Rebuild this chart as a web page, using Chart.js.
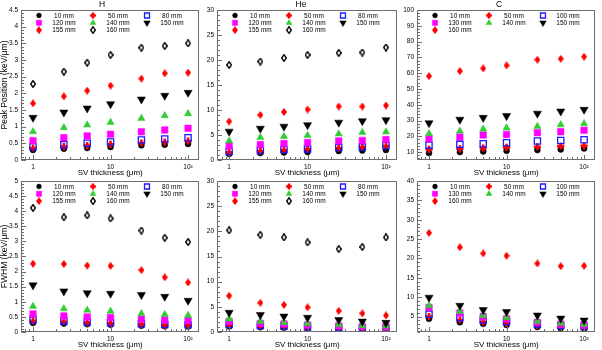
<!DOCTYPE html>
<html><head><meta charset="utf-8">
<script src="https://cdn.jsdelivr.net/npm/chart.js@4/dist/chart.umd.min.js"></script>
<style>
html,body{margin:0;padding:0;background:#fff;}
body{width:602px;height:350px;position:relative;overflow:hidden;}
canvas{position:absolute;}
</style></head><body>
<canvas id="p1" width="206" height="178" style="left:0px;top:0px"></canvas>
<canvas id="p2" width="204" height="178" style="left:200px;top:0px"></canvas>
<canvas id="p3" width="204" height="178" style="left:398px;top:0px"></canvas>
<canvas id="p4" width="206" height="180" style="left:0px;top:170px"></canvas>
<canvas id="p5" width="204" height="180" style="left:200px;top:170px"></canvas>
<canvas id="p6" width="204" height="180" style="left:398px;top:170px"></canvas>
<script>
// ---------------- data ----------------
const thickness = [1, 2.5, 5, 10, 25, 50, 100];
const xTickValues = [1, 10, 100];
const xTickLabels = ['1', '10', '10²'];

const hDepths = ['10 mm','50 mm','80 mm','120 mm','140 mm','150 mm','155 mm','160 mm'];
const cDepths = ['10 mm','50 mm','100 mm','130 mm','140 mm','150 mm','160 mm'];

const hPeakTicks = [0,0.5,1,1.5,2,2.5,3,3.5,4,4.5];
const hePeakTicks = [0,5,10,15,20,25,30];
const cPeakTicks = [10,20,30,40,50,60,70,80,90,100];
const hFwhmTicks = [0,0.5,1,1.5,2,2.5,3,3.5,4,4.5,5];
const heFwhmTicks = [0,5,10,15,20,25,30];
const cFwhmTicks = [5,10,15,20,25,30,35,40];

// Peak position, H
const hPeak10  = [0.30,0.34,0.36,0.39,0.44,0.46,0.48];
const hPeak50  = [0.36,0.40,0.43,0.47,0.51,0.54,0.57];
const hPeak80  = [0.40,0.46,0.50,0.54,0.60,0.63,0.67];
const hPeak120 = [0.58,0.67,0.72,0.77,0.85,0.90,0.95];
const hPeak140 = [0.85,0.97,1.05,1.13,1.25,1.33,1.39];
const hPeak150 = [1.27,1.43,1.55,1.68,1.82,1.93,2.02];
const hPeak155 = [1.70,1.91,2.08,2.23,2.44,2.60,2.62];
const hPeak160 = [2.28,2.65,2.92,3.15,3.37,3.42,3.50];
// Peak position, He
const hePeak10  = [1.2,1.4,1.5,1.6,1.8,1.9,2.0];
const hePeak50  = [1.5,1.8,2.0,2.2,2.4,2.6,2.8];
const hePeak80  = [1.7,1.9,2.1,2.2,2.5,2.6,2.9];
const hePeak120 = [2.8,3.1,3.3,3.5,3.8,3.9,4.1];
const hePeak140 = [3.8,4.5,4.7,4.9,5.2,5.5,5.6];
const hePeak150 = [5.7,6.3,6.7,7.0,7.5,7.8,8.0];
const hePeak155 = [7.7,9.0,9.6,10.1,10.7,10.7,10.9];
const hePeak160 = [19.0,19.7,20.4,21.0,21.4,21.5,22.5];
// Peak position, C
const cPeak10  = [9.4,10.0,10.4,10.8,11.3,11.7,12.3];
const cPeak50  = [11.7,12.1,12.5,13.0,13.4,13.8,14.0];
const cPeak100 = [14.4,14.9,15.3,15.9,17.0,17.4,17.8];
const cPeak130 = [18.5,19.5,20.8,21.2,22.3,22.9,23.8];
const cPeak140 = [21.7,23.3,24.6,25.3,26.3,27.4,28.0];
const cPeak150 = [28.4,30.6,31.8,32.9,34.4,35.8,36.9];
const cPeak160 = [58.1,61.3,63.0,64.9,68.5,69.1,70.4];
// FWHM, H
const hFwhm10  = [0.30,0.28,0.26,0.24,0.21,0.19,0.18];
const hFwhm50  = [0.37,0.34,0.30,0.28,0.25,0.22,0.21];
const hFwhm80  = [0.40,0.36,0.33,0.31,0.27,0.25,0.24];
const hFwhm120 = [0.60,0.53,0.50,0.48,0.42,0.40,0.38];
const hFwhm140 = [0.85,0.77,0.72,0.69,0.61,0.58,0.55];
const hFwhm150 = [1.55,1.35,1.29,1.27,1.23,1.17,1.04];
const hFwhm155 = [2.26,2.25,2.20,2.19,2.05,1.81,1.64];
const hFwhm160 = [4.11,3.80,3.86,3.76,3.36,3.12,2.98];
// FWHM, He
const heFwhm10  = [1.10,0.95,0.85,0.75,0.65,0.58,0.55];
const heFwhm50  = [1.40,1.20,1.05,0.95,0.80,0.70,0.65];
const heFwhm80  = [1.50,1.30,1.15,1.00,0.85,0.75,0.70];
const heFwhm120 = [2.10,1.70,1.60,1.40,1.20,1.05,1.00];
const heFwhm140 = [2.60,2.10,1.85,1.70,1.45,1.25,1.20];
const heFwhm150 = [3.85,3.40,3.10,2.85,2.40,2.10,1.85];
const heFwhm155 = [7.2,5.8,5.4,4.9,4.2,3.7,3.3];
const heFwhm160 = [20.2,19.3,18.8,17.8,16.5,16.9,18.8];
// FWHM, C
const cFwhm10  = [4.4,3.5,3.1,2.8,2.3,2.0,1.8];
const cFwhm50  = [5.0,4.1,3.6,3.2,2.7,2.3,2.1];
const cFwhm100 = [5.6,4.7,4.1,3.7,3.1,2.7,2.4];
const cFwhm130 = [7.3,5.9,5.0,4.4,3.5,3.0,2.8];
const cFwhm140 = [7.8,6.3,5.3,4.7,3.8,3.3,3.0];
const cFwhm150 = [9.9,7.8,6.7,6.2,5.3,4.5,4.0];
const cFwhm160 = [26.6,22.9,21.3,20.7,18.7,18.0,18.1];

// ---------------- styles ----------------
const FONT = '"Liberation Sans", Arial, Helvetica, sans-serif';
Chart.defaults.font.family = FONT;
Chart.defaults.color = '#000';
const AXIS = '#6e6e6e';

function diamond(w, h, fill, stroke, lw) {
  const c = document.createElement('canvas');
  c.width = w; c.height = h;
  const g = c.getContext('2d');
  const m = lw ? lw / 2 : 0;
  g.beginPath();
  g.moveTo(w / 2, m); g.lineTo(w - m, h / 2); g.lineTo(w / 2, h - m); g.lineTo(m, h / 2); g.closePath();
  if (fill) { g.fillStyle = fill; g.fill(); }
  if (stroke) { g.strokeStyle = stroke; g.lineWidth = lw; g.stroke(); }
  return c;
}
const MARKERS = {
  circle:      {pointStyle:'circle', pointRadius:3, pointBackgroundColor:'#000', pointBorderColor:'#000', pointBorderWidth:0.5},
  cross:       {pointStyle:'cross', pointRadius:3.6, pointBackgroundColor:'#ff0000', pointBorderColor:'#ff0000', pointBorderWidth:2.6},
  openSquare:  {pointStyle:'rect', pointRadius:4.4, pointBackgroundColor:'rgba(255,255,255,0)', pointBorderColor:'#1a1aff', pointBorderWidth:1.3},
  magSquare:   {pointStyle:'rect', pointRadius:4.6, pointBackgroundColor:'#ff00ff', pointBorderColor:'#ff00ff', pointBorderWidth:0.5},
  triUp:       {pointStyle:'triangle', pointRadius:4.2, pointBackgroundColor:'#33cc33', pointBorderColor:'#33cc33', pointBorderWidth:0.5},
  triDown:     {pointStyle:'triangle', pointRotation:180, pointRadius:4.7, pointBackgroundColor:'#000', pointBorderColor:'#000', pointBorderWidth:0.5},
  redDiamond:  {pointStyle:diamond(6, 8, '#ff0000', null, 0), pointRadius:4, pointBackgroundColor:'#ff0000', pointBorderColor:'#ff0000', pointBorderWidth:0},
  openDiamond: {pointStyle:diamond(6, 8, '#ffffff', '#000', 1.4), pointRadius:4, pointBackgroundColor:'#fff', pointBorderColor:'#000', pointBorderWidth:1.4}
};
const hStyles = ['circle','cross','openSquare','magSquare','triUp','triDown','redDiamond','openDiamond'];
const cStyles = ['circle','cross','openSquare','magSquare','triUp','triDown','redDiamond'];

// ---------------- plugins ----------------
const framePlugin = {
  id: 'frame',
  afterDatasetsDraw(chart, args, opts) {
    const {ctx, chartArea: a, scales} = chart;
    const L = Math.round(a.left) + 0.5, R = Math.round(a.right) - 0.5;
    const T = Math.round(a.top) + 0.5, B = Math.round(a.bottom) - 0.5;
    ctx.save();
    ctx.strokeStyle = AXIS; ctx.lineWidth = 1;
    ctx.strokeRect(L, T, R - L, B - T);
    ctx.beginPath();
    const xs = scales.x;
    for (const d of [0.1, 1, 10, 100]) {
      for (let m = 1; m <= 9; m++) {
        const v = m * d;
        if (v < xs.min || v > xs.max) continue;
        const px = Math.round(xs.getPixelForValue(v)) + 0.5;
        const len = (m === 1) ? 4.5 : 2.5;
        ctx.moveTo(px, B); ctx.lineTo(px, B - len);
      }
    }
    const ys = scales.y;
    const majors = ys.ticks.map(t => t.value);
    const step = opts.yMinor;
    const start = Math.ceil(ys.min / step - 1e-6) * step;
    for (let v = start; v <= ys.max + 1e-6; v += step) {
      const isMajor = majors.some(m => Math.abs(m - v) < step / 10);
      const py = Math.round(ys.getPixelForValue(v)) + 0.5;
      const len = isMajor ? 4.5 : 2.5;
      ctx.moveTo(L, py); ctx.lineTo(L + len, py);
    }
    ctx.stroke();
    ctx.restore();
  }
};

const gridLegend = {
  id: 'gridLegend',
  afterDatasetsDraw(chart, args, opts) {
    const {ctx, chartArea: a} = chart;
    ctx.save();
    chart.data.datasets.forEach((ds, i) => {
      const col = i % 3, row = Math.floor(i / 3);
      const mx = a.left + 18 + col * 54;
      const my = a.top + 5.5 + row * 7.3;
      ctx.fillStyle = ds.pointBackgroundColor;
      ctx.strokeStyle = ds.pointBorderColor;
      ctx.lineWidth = ds.pointBorderWidth;
      Chart.helpers.drawPoint(ctx, {
        pointStyle: ds.pointStyle, rotation: ds.pointRotation || 0,
        radius: ds.pointRadius * 0.8, borderWidth: ds.pointBorderWidth
      }, mx, my);
      ctx.fillStyle = '#000';
      ctx.font = '6.5px ' + FONT;
      ctx.textAlign = 'center';
      ctx.textBaseline = 'middle';
      ctx.fillText(ds.label, mx + 25, my + 0.5);
    });
    ctx.restore();
  }
};

// ---------------- charts ----------------
function makeChart(id, o) {
  const datasets = o.series.map((vals, i) => Object.assign({
    label: o.labels[i],
    data: thickness.map((x, k) => ({x: x, y: vals[k]})),
    showLine: false,
    order: 20 - i
  }, MARKERS[o.styles[i]]));
  return new Chart(document.getElementById(id), {
    type: 'scatter',
    data: {datasets},
    plugins: [framePlugin, gridLegend],
    options: {
      responsive: false,
      animation: false,
      events: [],
      layout: {padding: {top: o.padTop, right: 2, left: 0, bottom: 0}},
      plugins: {
        legend: {display: false},
        tooltip: {enabled: false},
        title: {display: !!o.title, text: o.title || '', color: '#000',
                font: {size: 8.5, weight: 'normal', lineHeight: '10px'}, padding: 0},
        frame: {yMinor: o.yMinor}
      },
      scales: {
        x: {
          type: 'logarithmic', position: 'bottom', min: 0.7, max: 140,
          grid: {display: false, drawTicks: false}, border: {display: false},
          afterBuildTicks: s => { s.ticks = xTickValues.map(v => ({value: v})); },
          afterFit: s => { s.height = 18; },
          ticks: {font: {size: 6.5}, padding: 3, maxRotation: 0, autoSkip: false,
                  callback: v => { const k = xTickValues.indexOf(v); return k >= 0 ? xTickLabels[k] : ''; }},
          title: {display: true, text: 'SV thickness (μm)', font: {size: 8}, padding: 0}
        },
        y: {
          type: 'linear', position: 'left', min: o.yMin, max: o.yMax,
          grid: {display: false, drawTicks: false}, border: {display: false},
          afterBuildTicks: s => { s.ticks = o.yTicks.map(v => ({value: v})); },
          afterFit: s => { s.width = o.yWidth; },
          ticks: {font: {size: 6.5}, padding: 3, autoSkip: false, callback: v => String(v)},
          title: {display: !!o.yTitle, text: o.yTitle || '', font: {size: 8.5, lineHeight: 1}, padding: 0}
        }
      }
    }
  });
}

makeChart('p1', {labels: hDepths, styles: hStyles, title: 'H', padTop: 0,
  series: [hPeak10,hPeak50,hPeak80,hPeak120,hPeak140,hPeak150,hPeak155,hPeak160],
  yMin: 0, yMax: 4.5, yTicks: hPeakTicks, yMinor: 0.1, yWidth: 21, yTitle: 'Peak Position (keV/μm)'});
makeChart('p2', {labels: hDepths, styles: hStyles, title: 'He', padTop: 0,
  series: [hePeak10,hePeak50,hePeak80,hePeak120,hePeak140,hePeak150,hePeak155,hePeak160],
  yMin: 0, yMax: 30, yTicks: hePeakTicks, yMinor: 1, yWidth: 17});
makeChart('p3', {labels: cDepths, styles: cStyles, title: 'C', padTop: 0,
  series: [cPeak10,cPeak50,cPeak100,cPeak130,cPeak140,cPeak150,cPeak160],
  yMin: 5, yMax: 100, yTicks: cPeakTicks, yMinor: 2, yWidth: 19});
makeChart('p4', {labels: hDepths, styles: hStyles, padTop: 11,
  series: [hFwhm10,hFwhm50,hFwhm80,hFwhm120,hFwhm140,hFwhm150,hFwhm155,hFwhm160],
  yMin: 0, yMax: 5, yTicks: hFwhmTicks, yMinor: 0.1, yWidth: 21, yTitle: 'FWHM (keV/μm)'});
makeChart('p5', {labels: hDepths, styles: hStyles, padTop: 11,
  series: [heFwhm10,heFwhm50,heFwhm80,heFwhm120,heFwhm140,heFwhm150,heFwhm155,heFwhm160],
  yMin: 0, yMax: 30, yTicks: heFwhmTicks, yMinor: 1, yWidth: 17});
makeChart('p6', {labels: cDepths, styles: cStyles, padTop: 11,
  series: [cFwhm10,cFwhm50,cFwhm100,cFwhm130,cFwhm140,cFwhm150,cFwhm160],
  yMin: 1, yMax: 40, yTicks: cFwhmTicks, yMinor: 1, yWidth: 19});
</script>
</body></html>
